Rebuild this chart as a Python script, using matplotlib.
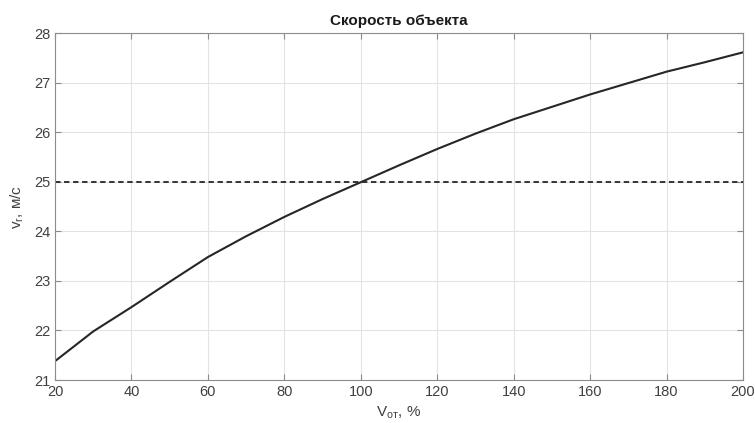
import matplotlib.pyplot as plt
import numpy as np

# Data.
v_ot = [20, 30, 40, 50, 60, 70, 80, 90, 100, 110, 120, 130, 140, 150, 160, 170, 180, 190, 200]
v_r = [21.38, 21.98, 22.47, 22.98, 23.48, 23.9, 24.29, 24.65, 24.99, 25.33, 25.66,
       25.97, 26.26, 26.51, 26.76, 26.99, 27.22, 27.41, 27.61]
v_target = 25.0

plt.rcParams['font.family'] = ['Liberation Sans', 'DejaVu Sans']

fig = plt.figure(figsize=(7.55, 4.23), dpi=100)
ax = fig.add_axes([55 / 755, 1 - 380 / 423, 688 / 755, 347 / 423])

ax.plot(v_ot, v_r, color='#262626', linewidth=1.5)
ax.axhline(v_target, color='#262626', linewidth=1.3, linestyle=(0, (3, 2)))

ax.set_xlim(20, 200)
ax.set_ylim(21, 28)
ax.set_xticks(np.arange(20, 201, 20))
ax.set_yticks(np.arange(21, 29, 1))
ax.grid(True, color='#e3e3e3', linewidth=0.8)
ax.set_axisbelow(True)

for s in ax.spines.values():
    s.set_color('#8c8c8c')
    s.set_linewidth(0.8)
ax.tick_params(colors='#8c8c8c', labelcolor='#404040', labelsize=10.5,
               direction='in', length=4, top=True, right=True)

ax.set_title('Скорость объекта', fontsize=11, fontweight='bold', color='#1a1a1a', pad=6)
ax.set_xlabel('V$_{\\mathregular{от}}$, %', fontsize=11, color='#404040', labelpad=4)
ax.set_ylabel('v$_{\\mathregular{r}}$, м/с', fontsize=11, color='#404040', labelpad=6)

fig.savefig('out.png', dpi=100)
